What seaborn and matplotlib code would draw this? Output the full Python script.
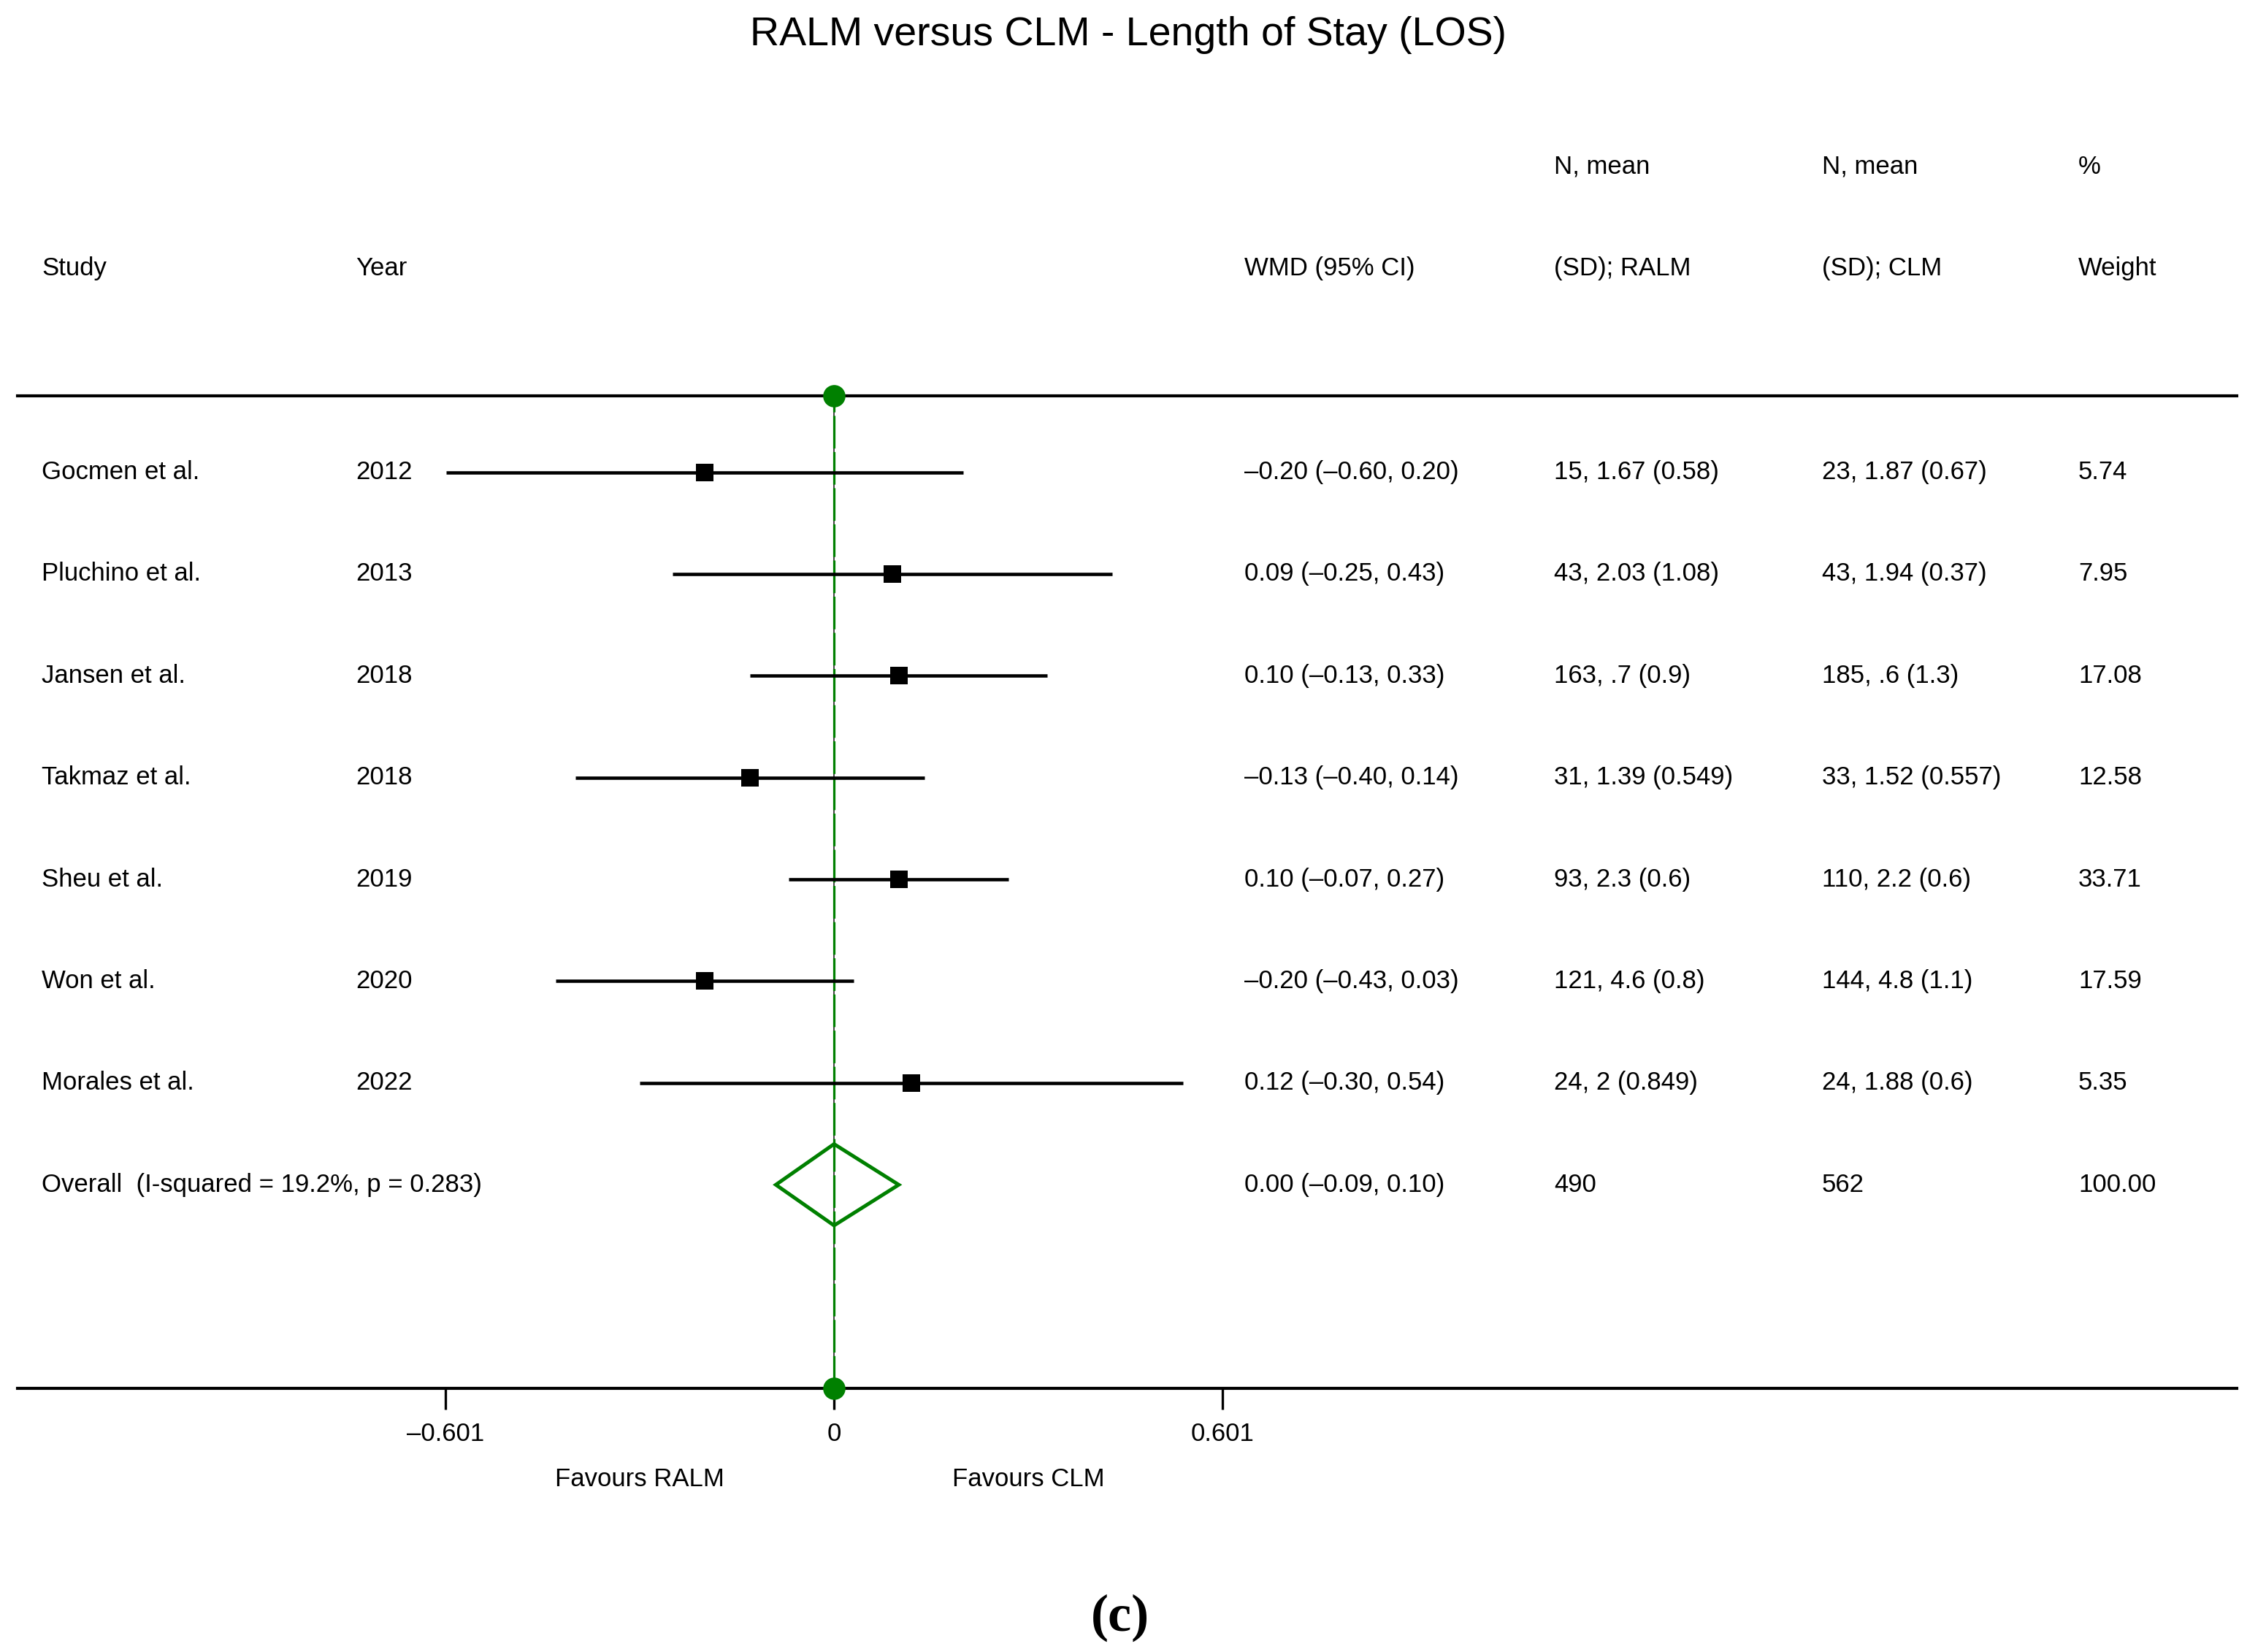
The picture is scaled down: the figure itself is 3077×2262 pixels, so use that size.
'Forest plot: RALM versus CLM - Length of Stay'
import numpy as np
import matplotlib
matplotlib.use("Agg")
import matplotlib.pyplot as plt
from matplotlib.patches import Polygon
import seaborn as sns

# data
studies = ["Gocmen et al.", "Pluchino et al.", "Jansen et al.", "Takmaz et al.",
           "Sheu et al.", "Won et al.", "Morales et al."]
years = [2012, 2013, 2018, 2018, 2019, 2020, 2022]
wmd = [-0.20, 0.09, 0.10, -0.13, 0.10, -0.20, 0.12]
ci_low = [-0.60, -0.25, -0.13, -0.40, -0.07, -0.43, -0.30]
ci_high = [0.20, 0.43, 0.33, 0.14, 0.27, 0.03, 0.54]
ralm = ["15, 1.67 (0.58)", "43, 2.03 (1.08)", "163, .7 (0.9)", "31, 1.39 (0.549)",
        "93, 2.3 (0.6)", "121, 4.6 (0.8)", "24, 2 (0.849)"]
clm = ["23, 1.87 (0.67)", "43, 1.94 (0.37)", "185, .6 (1.3)", "33, 1.52 (0.557)",
       "110, 2.2 (0.6)", "144, 4.8 (1.1)", "24, 1.88 (0.6)"]
weights = [5.74, 7.95, 17.08, 12.58, 33.71, 17.59, 5.35]

overall_label = "Overall  (I-squared = 19.2%, p = 0.283)"
overall_est = 0.00
overall_low = -0.09
overall_high = 0.10
overall_ralm = "490"
overall_clm = "562"
overall_weight = 100.00

tick_vals = [-0.601, 0, 0.601]
tick_labels = ["\u20130.601", "0", "0.601"]


def fmt(v):
    s = f"{abs(v):.2f}"
    return ("\u2013" + s) if v < 0 else s


def ci_text(est, lo, hi):
    return f"{fmt(est)} ({fmt(lo)}, {fmt(hi)})"


sns.set_theme(style="white")
plt.rcParams['font.family'] = ['Liberation Sans', 'DejaVu Sans']
plt.rcParams['text.color'] = 'black'
plt.rcParams['xtick.color'] = 'black'
plt.rcParams['axes.labelcolor'] = 'black'

GREEN = "#008000"
FS = 25

fig = plt.figure(figsize=(30.77, 22.62), dpi=100)
ax = fig.add_axes([24 / 3077, 1 - 1901 / 2262, 3039 / 3077, 1359 / 2262])
ax.set_xlim(-1.2626, 2.169)
ax.set_ylim(9.0, -0.75)

rows = np.arange(len(studies))
overall_row = len(studies)

# spines as the top and bottom rules
for side in ["left", "right"]:
    ax.spines[side].set_visible(False)
for side in ["top", "bottom"]:
    ax.spines[side].set_linewidth(3.0)
    ax.spines[side].set_color("black")
ax.set_yticks([])
ax.set_xticks(tick_vals)
ax.set_xticklabels(tick_labels, fontsize=FS)
ax.tick_params(axis="x", direction="out", length=21, width=2.4, pad=12,
               bottom=True, color="black", labelcolor="black")
ax.grid(False)

# null line with the overall-effect line on top
ax.axvline(0, color="#404040", lw=1.4, zorder=2)
ax.axvline(overall_est, color=GREEN, lw=2.3, dashes=(14, 1.5), zorder=2)
ylo, yhi = ax.get_ylim()
ax.plot([overall_est, overall_est], [ylo, yhi], "o", color=GREEN, ms=21,
        clip_on=False, zorder=6)

# confidence intervals and point estimates
ax.hlines(rows, ci_low, ci_high, color="black", lw=3.3, zorder=3)
sns.scatterplot(x=wmd, y=rows, marker="s", s=290, color="black",
                edgecolor="black", linewidth=0, ax=ax, zorder=4)

# pooled diamond
half_h = 0.4
diamond = Polygon([[overall_low, overall_row], [overall_est, overall_row - half_h],
                   [overall_high, overall_row], [overall_est, overall_row + half_h]],
                  closed=True, fill=False, edgecolor=GREEN, lw=3.6, zorder=5)
ax.add_patch(diamond)

# text columns (x in figure fraction, y in row units)
tr = matplotlib.transforms.blended_transform_factory(fig.transFigure, ax.transData)
col_study, col_year, col_wmd = 57 / 3077, 487 / 3077, 1704 / 3077
col_ralm, col_clm, col_wt = 2128 / 3077, 2495 / 3077, 2846 / 3077


def put(x, y, s, **kw):
    ax.text(x, y, s, transform=tr, fontsize=FS, va="center", ha="left",
            color="black", clip_on=False, **kw)


put(col_ralm, -3, "N, mean")
put(col_clm, -3, "N, mean")
put(col_wt, -3, "%")
put(col_study, -2, "Study")
put(col_year, -2, "Year")
put(col_wmd, -2, "WMD (95% CI)")
put(col_ralm, -2, "(SD); RALM")
put(col_clm, -2, "(SD); CLM")
put(col_wt, -2, "Weight")

for i, r in enumerate(rows):
    put(col_study, r, studies[i])
    put(col_year, r, str(years[i]))
    put(col_wmd, r, ci_text(wmd[i], ci_low[i], ci_high[i]))
    put(col_ralm, r, ralm[i])
    put(col_clm, r, clm[i])
    put(col_wt, r, f"{weights[i]:.2f}")

put(col_study, overall_row, overall_label)
put(col_wmd, overall_row, ci_text(overall_est, overall_low, overall_high))
put(col_ralm, overall_row, overall_ralm)
put(col_clm, overall_row, overall_clm)
put(col_wt, overall_row, f"{overall_weight:.2f}")

# favours labels
ax.text(tick_vals[0] / 2, 9.89, "Favours RALM", fontsize=FS, ha="center",
        va="center", color="black", clip_on=False)
ax.text(tick_vals[2] / 2, 9.89, "Favours CLM", fontsize=FS, ha="center",
        va="center", color="black", clip_on=False)

fig.text(0.502, 1 - 62 / 2262, "RALM versus CLM - Length of Stay (LOS)",
         fontsize=40, ha="center", va="baseline", color="black")
fig.text(0.4985, 1 - 2215 / 2262, "(c)", fontsize=52, fontweight="bold",
         family=["Liberation Serif", "DejaVu Serif"], ha="center", va="center",
         color="black")

fig.savefig("out.png", dpi=100, facecolor="white")
